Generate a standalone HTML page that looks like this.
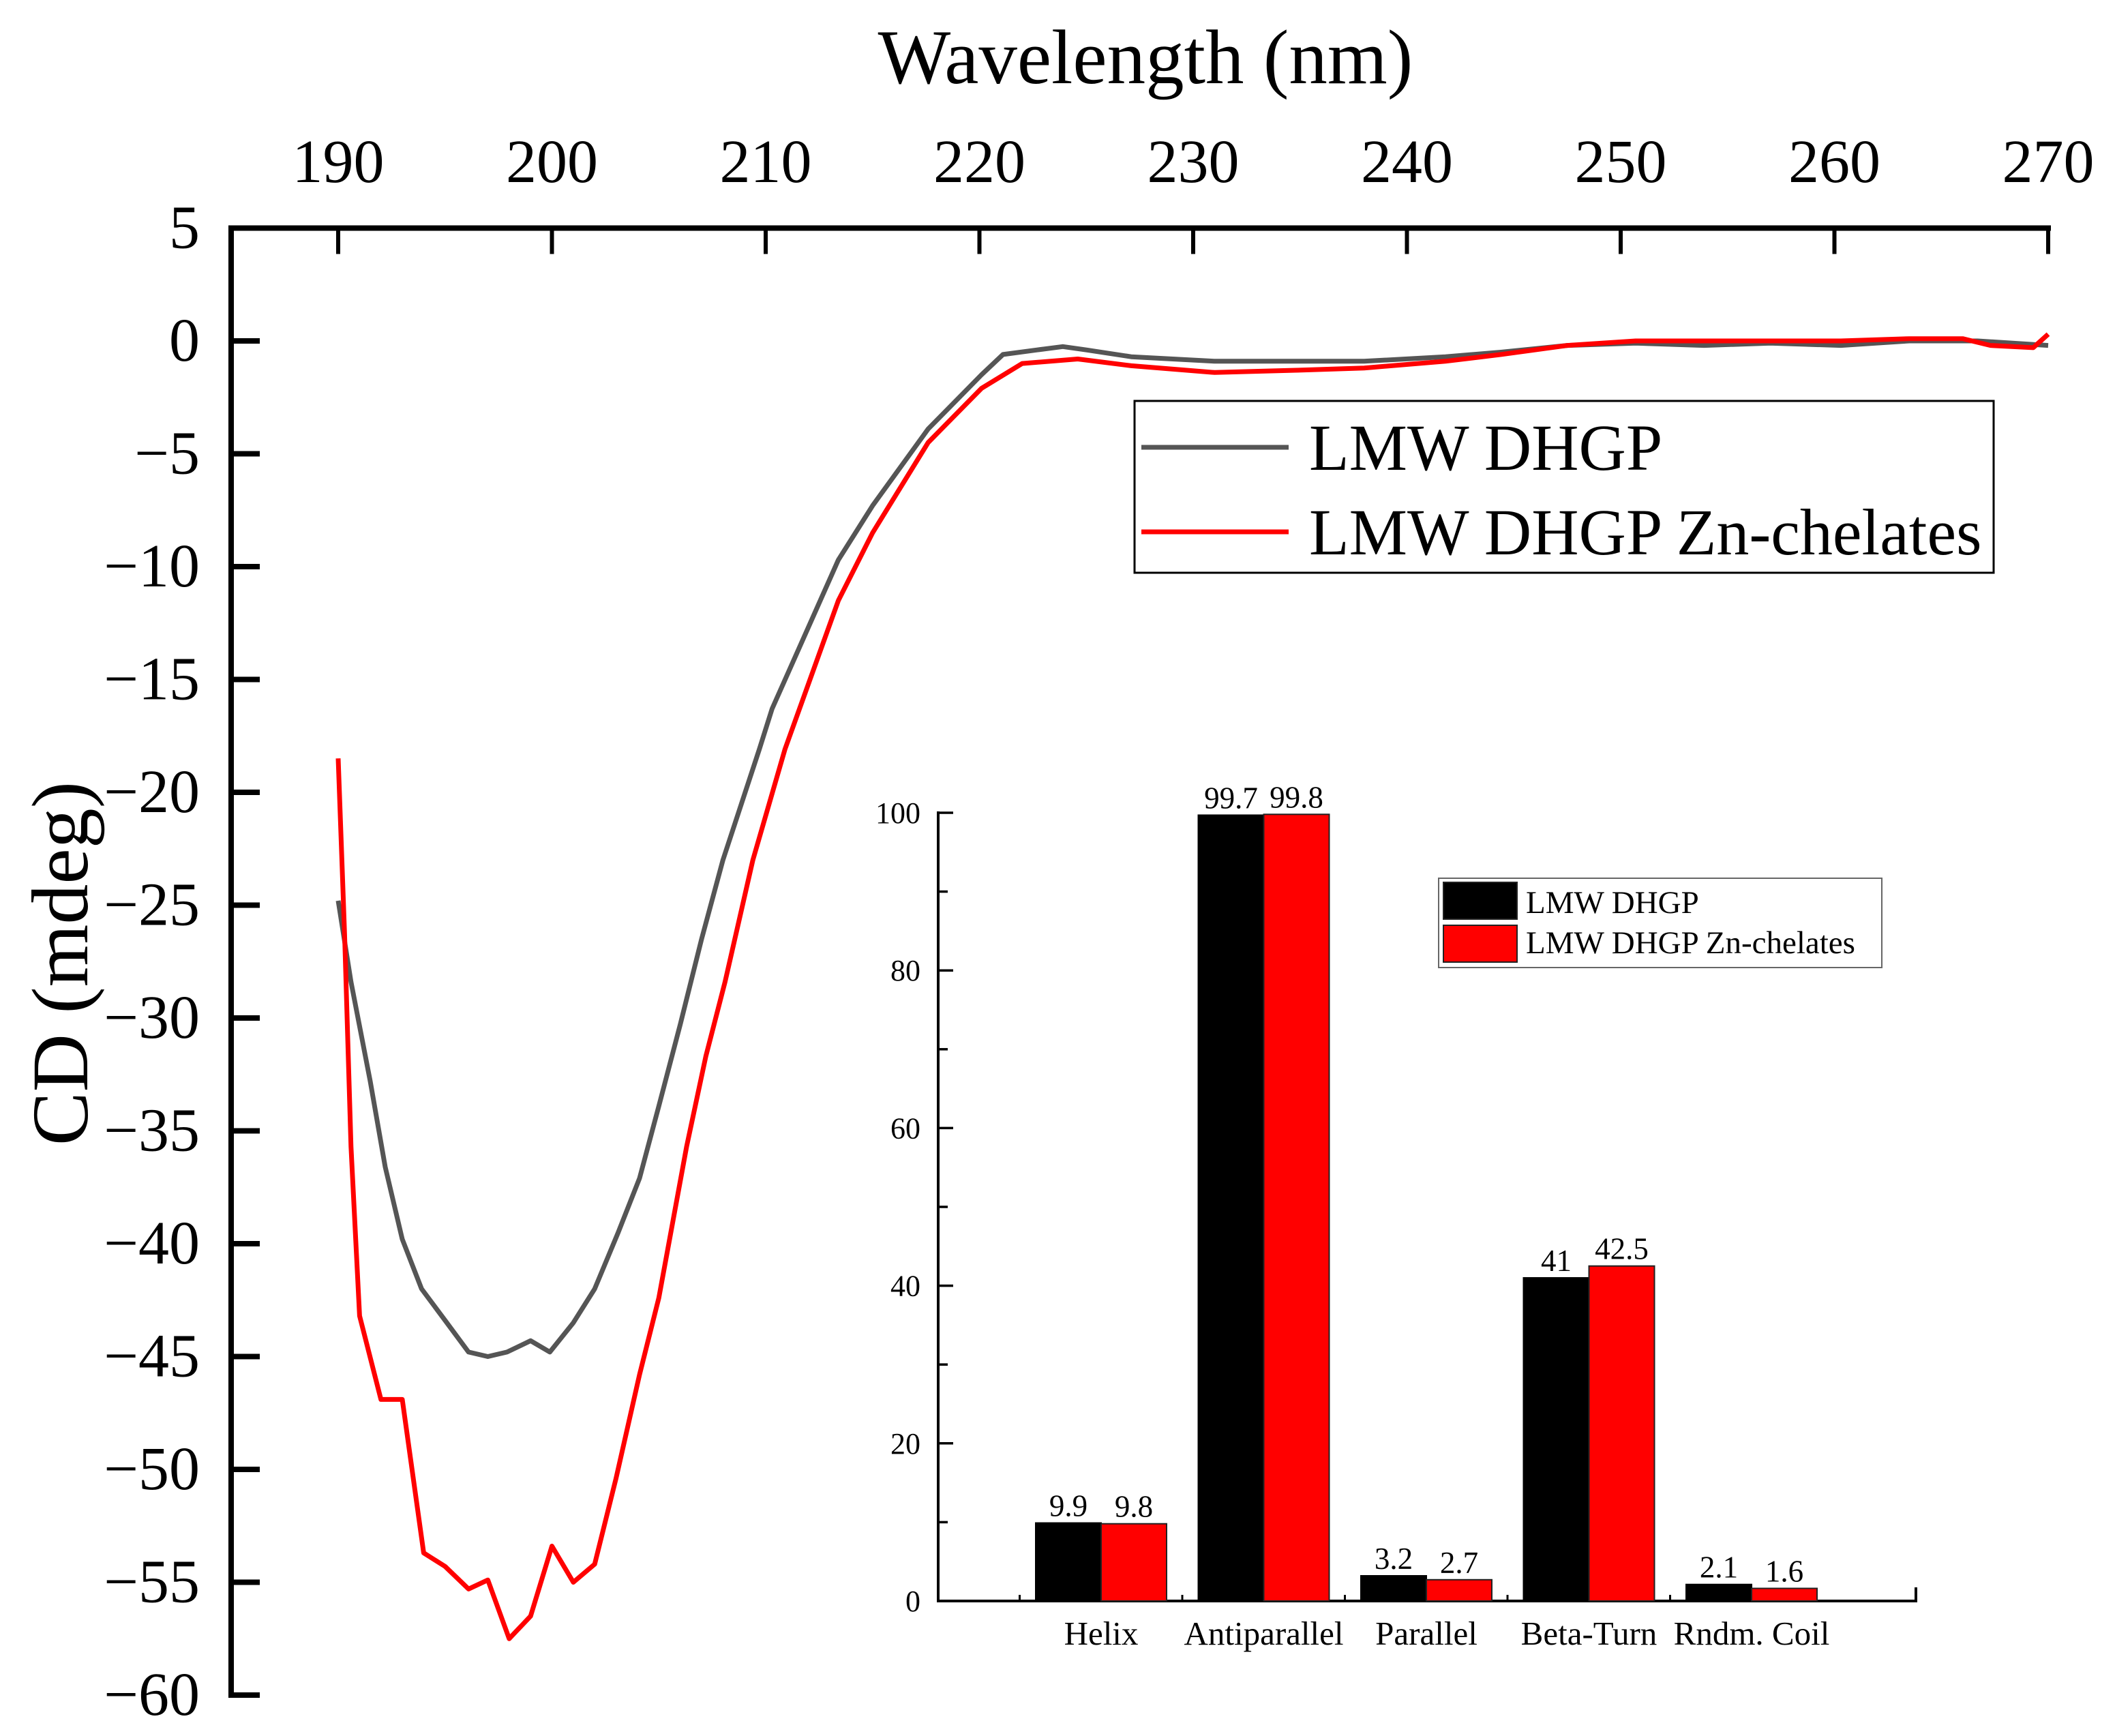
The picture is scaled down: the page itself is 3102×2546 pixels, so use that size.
<!DOCTYPE html>
<html><head><meta charset="utf-8"><style>
html,body{margin:0;padding:0;background:#fff;}
svg{display:block;font-family:"Liberation Serif","Times New Roman",serif;}
</style></head><body>
<svg id="chart" width="3102" height="2546" viewBox="0 0 3102 2546" xmlns="http://www.w3.org/2000/svg">
<rect x="0" y="0" width="3102" height="2546" fill="#fff"/>
<g id="main"></g>
<g id="inset"></g>
</svg>
<script>
// ---- main CD spectrum data ----
const xTicks = [190,200,210,220,230,240,250,260,270];
const yTicks = [5,0,-5,-10,-15,-20,-25,-30,-35,-40,-45,-50,-55,-60];
const blackNm = [190,190.6,191.5,192.2,193,193.9,195,196.1,197,197.9,199,199.9,201,202,203.1,204.1,205,206,207,208,209.7,210.3,213.4,215,217.6,220.1,221.1,222.7,223.9,225,227.1,231,234.8,238,241.8,244.4,247.5,250.7,253.9,257,260.3,263.5,266.7,270];
const blackCD = [-24.8,-28.4,-32.8,-36.6,-39.8,-42.0,-43.4,-44.8,-45.0,-44.8,-44.3,-44.8,-43.5,-42.0,-39.5,-37.1,-33.9,-30.3,-26.5,-23.0,-18.1,-16.3,-9.7,-7.3,-3.9,-1.5,-0.6,-0.4,-0.25,-0.4,-0.7,-0.9,-0.9,-0.9,-0.7,-0.5,-0.2,-0.1,-0.2,-0.1,-0.2,0,0,-0.2];
const redNm = [190,190.3,190.6,191,192,193,194,195,196.1,197,198,199,200,201,202,203,204.1,205,206.3,207.2,208.1,209.4,210.9,213.4,215,217.6,220.1,222,224.6,227.1,231,234.8,238,241.8,244.4,247.5,250.7,254,257,260.3,263.5,266,267.3,269.3,270];
const redCD = [-18.5,-26.3,-35.7,-43.2,-46.9,-46.9,-53.7,-54.3,-55.3,-54.9,-57.5,-56.5,-53.4,-55.0,-54.2,-50.4,-45.8,-42.4,-35.7,-31.7,-28.4,-23.0,-18.1,-11.5,-8.5,-4.5,-2.1,-1.0,-0.8,-1.1,-1.4,-1.3,-1.2,-0.9,-0.6,-0.2,0,0,0,0,0.1,0.1,-0.2,-0.3,0.3];
const seriesNames = ["LMW DHGP","LMW DHGP Zn-chelates"];

// ---- inset bar data ----
const categories = ["Helix","Antiparallel","Parallel","Beta-Turn","Rndm. Coil"];
const dhgpValues = [9.9,99.7,3.2,41,2.1];
const znValues = [9.8,99.8,2.7,42.5,1.6];
const dhgpLabels = ["9.9","99.7","3.2","41","2.1"];
const znLabels = ["9.8","99.8","2.7","42.5","1.6"];
const insetTicks = [0,20,40,60,80,100];

const NS="http://www.w3.org/2000/svg";
function mk(parent,tag,attrs,text){const e=document.createElementNS(NS,tag);for(const k in attrs)e.setAttribute(k,attrs[k]);if(text!==undefined)e.textContent=text;parent.appendChild(e);return e;}

const main=document.getElementById('main');
const X=nm=>496+31.35*(nm-190);
const Y=v=>500-33.1*v;

let e;
e=mk(main,'line',{x1:339,y1:Y(5),x2:X(270)+4,y2:Y(5),stroke:'#000','stroke-width':8});


e=mk(main,'line',{x1:339,y1:Y(5)-4,x2:339,y2:Y(-60)+4,stroke:'#000','stroke-width':8});


xTicks.forEach(t=>{
  e=mk(main,'line',{x1:X(t),y1:Y(5),x2:X(t),y2:Y(5)+38,stroke:'#000','stroke-width':6});
  
  
  e=mk(main,'text',{x:X(t),y:267,'font-size':90,'text-anchor':'middle'},String(t));
  
  
});
yTicks.forEach(t=>{
  e=mk(main,'line',{x1:339,y1:Y(t),x2:381,y2:Y(t),stroke:'#000','stroke-width':8});
  
  
  e=mk(main,'text',{x:293,y:Y(t)+29,'font-size':90,'text-anchor':'end'},t<0?'\u2212'+Math.abs(t):String(t));
  
  
});
e=mk(main,'text',{x:1680,y:122,'font-size':113,'text-anchor':'middle'},'Wavelength (nm)');


e=mk(main,'text',{x:0,y:0,'font-size':118,'text-anchor':'middle',transform:'translate(128,1413) rotate(-90)'},'CD (mdeg)');



function pts(xs,ys){return xs.map((x,i)=>X(x).toFixed(1)+','+Y(ys[i]).toFixed(1)).join(' ');}
e=mk(main,'polyline',{points:pts(blackNm,blackCD),fill:'none',stroke:'#555','stroke-width':7,'stroke-linejoin':'round'});


e=mk(main,'polyline',{points:pts(redNm,redCD),fill:'none',stroke:'#ff0000','stroke-width':7,'stroke-linejoin':'round'});



const lg=mk(main,'g',{});


mk(lg,'rect',{x:1664,y:588,width:1260,height:252,fill:'#fff',stroke:'#000','stroke-width':3});
[['#555',656],['#ff0000',780]].forEach((s,i)=>{
  e=mk(lg,'line',{x1:1674,y1:s[1],x2:1890,y2:s[1],stroke:s[0],'stroke-width':7});
  
  
  e=mk(lg,'text',{x:1920,y:s[1]+33,'font-size':96},seriesNames[i]);
  
  
});

// ---- inset ----
const ins=document.getElementById('inset');
const IX0=1376, IY=v=>2348-11.56*v;
const cx=i=>1615+238.5*i;
const IXEND=2810;
e=mk(ins,'line',{x1:IX0,y1:IY(100)-2,x2:IX0,y2:IY(0)+2,stroke:'#000','stroke-width':4});


e=mk(ins,'line',{x1:IX0-2,y1:IY(0),x2:IXEND+2,y2:IY(0),stroke:'#000','stroke-width':4});


mk(ins,'line',{x1:IXEND,y1:IY(0),x2:IXEND,y2:IY(0)-20,stroke:'#000','stroke-width':4});
for(let v=0;v<=100;v+=10){
  const major=v%20===0;
  e=mk(ins,'line',{x1:IX0,y1:IY(v),x2:IX0+(major?22:14),y2:IY(v),stroke:'#000','stroke-width':3.5});
  
  
}
insetTicks.forEach(t=>{
  e=mk(ins,'text',{x:1350,y:IY(t)+15,'font-size':44,'text-anchor':'end'},String(t));
  
  
});
for(let i=-1;i<categories.length-1;i++){
  mk(ins,'line',{x1:cx(i)+119,y1:IY(0),x2:cx(i)+119,y2:IY(0)-9,stroke:'#000','stroke-width':3});
}
categories.forEach((c,i)=>{
  e=mk(ins,'rect',{x:cx(i)-96,y:IY(dhgpValues[i]),width:96,height:IY(0)-IY(dhgpValues[i]),fill:'#000',stroke:'#000','stroke-width':2});
  
  
  e=mk(ins,'rect',{x:cx(i),y:IY(znValues[i]),width:96,height:IY(0)-IY(znValues[i]),fill:'#ff0000',stroke:'#222','stroke-width':2});
  
  
  e=mk(ins,'text',{x:cx(i)-48,y:IY(dhgpValues[i])-10,'font-size':45,'text-anchor':'middle'},dhgpLabels[i]);
  
  
  e=mk(ins,'text',{x:cx(i)+48,y:IY(znValues[i])-10,'font-size':45,'text-anchor':'middle'},znLabels[i]);
  
  
  e=mk(ins,'text',{x:cx(i),y:2412,'font-size':49,'text-anchor':'middle'},c);
  
  
});
const il=mk(ins,'g',{});


mk(il,'rect',{x:2110,y:1288,width:650,height:131,fill:'#fff',stroke:'#666','stroke-width':2});
[['#000',1294,1339],['#ff0000',1357,1398]].forEach((s,i)=>{
  e=mk(il,'rect',{x:2117,y:s[1],width:108,height:54,fill:s[0],stroke:'#222','stroke-width':2});
  
  
  e=mk(il,'text',{x:2238,y:s[2],'font-size':47},seriesNames[i]);
  
  
});
</script>
</body></html>
